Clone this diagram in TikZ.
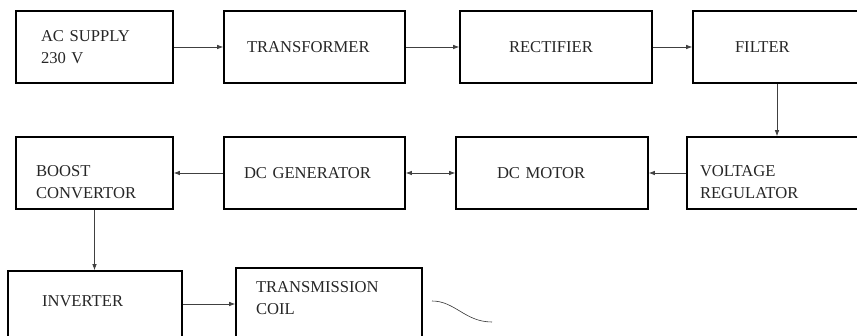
\documentclass[tikz,border=0pt]{standalone}
\usepackage{fontspec}
\setmainfont{Liberation Serif}
\usetikzlibrary{arrows.meta}

\begin{document}
\begin{tikzpicture}[x=1pt,y=-1pt,>={Latex[length=6pt,width=4.5pt]},
  blk/.style={draw,line width=1.6pt,inner sep=0pt,minimum height=72pt,align=left,
    text=black!85,font=\fontsize{16.6}{21.5}\selectfont},
  conn/.style={line width=0.7pt,black!75}]
\useasboundingbox (0,0) rectangle (857,336);
\clip (0,0) rectangle (857,336);
% first row
\node[blk,minimum width=157pt,text width=107pt] (ac) at (94.5,47) {AC SUPPLY\\230 V};
\node[blk,minimum width=181pt,text width=135pt] (tr) at (314.5,47) {TRANSFORMER};
\node[blk,minimum width=192pt,text width=94pt] (re) at (556,47) {RECTIFIER};
\node[blk,minimum width=168pt,text width=84pt] (fi) at (777,47) {FILTER};
% second row
\node[blk,minimum width=180pt,text width=154pt,text height=29pt] (vr) at (777,173) {VOLTAGE\\REGULATOR};
\node[blk,minimum width=192pt,text width=110pt] (dm) at (552,173) {DC MOTOR};
\node[blk,minimum width=181pt,text width=141pt] (dg) at (314.5,173) {DC GENERATOR};
\node[blk,minimum width=157pt,text width=117pt,text height=29pt] (bc) at (94.5,173) {BOOST\\CONVERTOR};
% third row
\node[blk,minimum width=174pt,text width=106pt,text depth=12pt] (inv) at (95,307) {INVERTER};
\node[blk,minimum width=186pt,text width=146pt,text depth=33pt] (tc) at (329,304) {TRANSMISSION\\COIL};
\coordinate (w1) at (432,301);
\coordinate (w2) at (492,322);
% connectors
\draw[conn,->] (ac)--(tr);\draw[conn,->] (tr)--(re);\draw[conn,->] (re)--(fi);
\draw[conn,->] (fi)--(vr);\draw[conn,->] (vr)--(dm);\draw[conn,<->] (dm)--(dg);
\draw[conn,->] (dg)--(bc);
\draw[conn,->] (bc.south) -- (bc.south |- inv.north);
\draw[conn,->] (inv.east |- tc.west) -- (tc.west);
\draw[line width=0.6pt,black!80] (w1) .. controls (455,301) and (465,322) .. (w2);
\end{tikzpicture}
\end{document}
